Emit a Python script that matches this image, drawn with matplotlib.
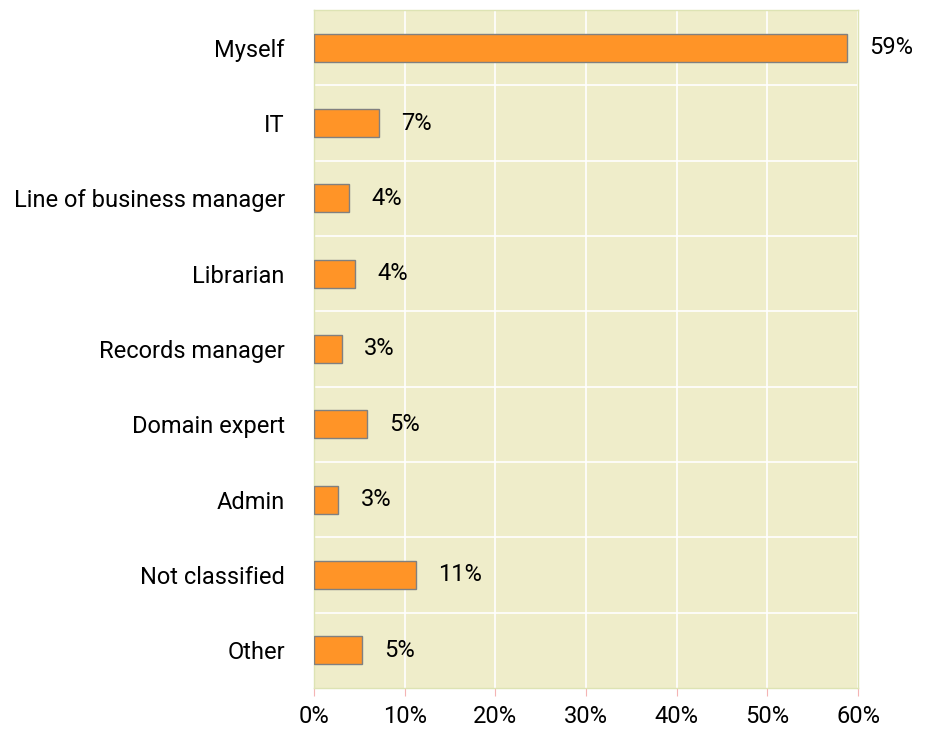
import matplotlib
matplotlib.use("Agg")
import matplotlib.pyplot as plt

categories = ["Myself", "IT", "Line of business manager", "Librarian",
              "Records manager", "Domain expert", "Admin", "Not classified", "Other"]
values = [58.8, 7.2, 3.9, 4.5, 3.1, 5.8, 2.7, 11.2, 5.3]
labels = ["59%", "7%", "4%", "4%", "3%", "5%", "3%", "11%", "5%"]
xticks = [0, 10, 20, 30, 40, 50, 60]

plt.rcParams['font.family'] = ['Roboto', 'DejaVu Sans']

fig = plt.figure(figsize=(9.3, 7.31), dpi=100)
ax = fig.add_axes([314/930, 1 - 688/731, 544/930, 678/731])

ax.set_facecolor("#efedca")
pos = list(range(len(categories)))
ax.barh(pos, values, height=0.37, color="#ff9427", edgecolor="#808080", linewidth=1, zorder=3)

for p, v, t in zip(pos, values, labels):
    ax.annotate(t, (v, p), xytext=(16, 0), textcoords="offset points",
                va="center", ha="left", fontsize=17)

ax.set_xlim(0, 60)
ax.set_ylim(len(categories) - 0.5, -0.5)
ax.set_xticks(xticks)
ax.set_xticklabels([f"{x}%" for x in xticks], fontsize=17)
ax.set_yticks(pos)
ax.set_yticklabels(categories, fontsize=17)

# white grid: vertical at ticks, horizontal between rows
ax.set_yticks([p + 0.5 for p in pos[:-1]], minor=True)
ax.grid(True, axis="x", which="major", color="white", linewidth=1.2, zorder=1)
ax.grid(True, axis="y", which="minor", color="white", linewidth=1.2, zorder=1)
ax.tick_params(axis="y", which="both", length=0, pad=21)
ax.tick_params(axis="x", length=6, color="#f4b4b4", pad=6)

for s in ax.spines.values():
    s.set_color("#dde3b4")
    s.set_linewidth(1)

fig.savefig("out.png", dpi=100)
